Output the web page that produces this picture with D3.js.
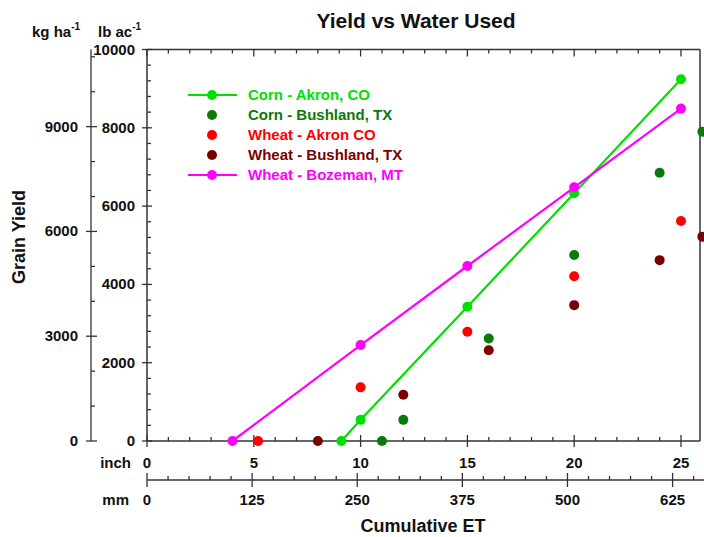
<!DOCTYPE html>
<html>
<head>
<meta charset="utf-8">
<script src="https://cdn.jsdelivr.net/npm/d3@7"></script>
<style>
  body { margin: 0; background: #fff; }
  text { font-family: "Liberation Sans", Arial, sans-serif; font-weight: bold; fill: #111; }
</style>
</head>
<body>
<svg width="704" height="537"></svg>
<script>
// cumulative ET in inches, grain yield in lb/ac
var cornAkronX = [9.1, 10, 15, 20, 25];
var cornAkronY = [0, 540, 3430, 6330, 9240];
var cornBushlandX = [11, 12, 16, 20, 24, 26];
var cornBushlandY = [0, 540, 2620, 4750, 6850, 7900];
var wheatAkronX = [5.2, 10, 15, 20, 25];
var wheatAkronY = [0, 1370, 2790, 4210, 5620];
var wheatBushlandX = [8, 12, 16, 20, 24, 26];
var wheatBushlandY = [0, 1180, 2320, 3470, 4620, 5220];
var wheatBozemanX = [4, 10, 15, 20, 25];
var wheatBozemanY = [0, 2450, 4470, 6480, 8490];

var seriesNames = ['Corn - Akron, CO', 'Corn - Bushland, TX', 'Wheat - Akron CO',
                   'Wheat - Bushland, TX', 'Wheat - Bozeman, MT'];

var inchTicks = [0, 5, 10, 15, 20, 25];
var mmTicks = [0, 125, 250, 375, 500, 625];
var lbTicks = [0, 2000, 4000, 6000, 8000, 10000];
var kgTicks = [0, 3000, 6000, 9000];

var colors = ['#00e000', '#0a7a0a', '#ff0000', '#7a0000', '#ff00ff'];

var svg = d3.select('svg');

var x = d3.scaleLinear().domain([0, 25]).range([147, 681]);
var xmm = d3.scaleLinear().domain([0, 25 * 25.4]).range([147, 681]);
var y = d3.scaleLinear().domain([0, 10000]).range([441, 49.5]);
var ykg = d3.scaleLinear().domain([0, 10000 * 1.12085]).range([441, 49.5]);

var right = 700;
var axisCol = '#333';

function line(x1, y1, x2, y2, w) {
  svg.append('line')
     .attr('x1', x1).attr('y1', y1).attr('x2', x2).attr('y2', y2)
     .attr('stroke', axisCol).attr('stroke-width', w || 1.3);
}

// frame
line(147, y(10000), right, y(10000), 1.5);
line(right, y(10000), right, y(0), 1.5);
line(147, y(0), right, y(0), 1.5);
line(147, y(0), 147, y(10000), 1.5);

// inch ticks (bottom + top)
d3.range(0, 26).forEach(function(v){
  var major = v % 5 == 0;
  line(x(v), y(0) - (major ? 6 : 4), x(v), y(0) + (major ? 6 : 0));
  line(x(v), y(10000), x(v), y(10000) + (major ? 7 : 4));
});
svg.selectAll('.inchLab').data(inchTicks).enter().append('text')
   .attr('x', function(d){ return x(d); }).attr('y', 468)
   .attr('text-anchor', 'middle').attr('font-size', 15)
   .text(function(d){ return d; });
svg.append('text').attr('x', 131).attr('y', 468).attr('text-anchor', 'end')
   .attr('font-size', 15).text('inch');

// mm axis
line(147, 480, 704, 480, 1.5);
d3.range(0, 676, 25).forEach(function(v){
  var major = v % 125 == 0;
  line(xmm(v), 480 - (major ? 7 : 4), xmm(v), 480 + (major ? 7 : 0));
});
svg.selectAll('.mmLab').data(mmTicks).enter().append('text')
   .attr('x', function(d){ return xmm(d); }).attr('y', 505)
   .attr('text-anchor', 'middle').attr('font-size', 15)
   .text(function(d){ return d; });
svg.append('text').attr('x', 129).attr('y', 505).attr('text-anchor', 'end')
   .attr('font-size', 15).text('mm');

svg.append('text').attr('x', 423).attr('y', 532).attr('text-anchor', 'middle')
   .attr('font-size', 18).text('Cumulative ET');

// lb/ac axis
d3.range(0, 10001, 400).forEach(function(v){
  var major = v % 2000 == 0;
  line(147 - (major ? 5 : 0), y(v), 147 + (major ? 5 : 4), y(v));
});
svg.selectAll('.lbLab').data(lbTicks).enter().append('text')
   .attr('x', 135).attr('y', function(d){ return y(d) + 5; })
   .attr('text-anchor', 'end').attr('font-size', 15)
   .text(function(d){ return d; });

// kg/ha axis
line(91, y(0), 91, ykg(11208), 1.3);
d3.range(0, 11001, 1000).forEach(function(v){
  var major = v % 3000 == 0;
  line(91 - (major ? 5 : 0), ykg(v), 91 + (major ? 6 : 4), ykg(v));
});
svg.selectAll('.kgLab').data(kgTicks).enter().append('text')
   .attr('x', 78).attr('y', function(d){ return ykg(d) + 5; })
   .attr('text-anchor', 'end').attr('font-size', 15)
   .text(function(d){ return d; });

// unit labels
var kgT = svg.append('text').attr('x', 32).attr('y', 37).attr('font-size', 15);
kgT.append('tspan').text('kg ha');
kgT.append('tspan').attr('dy', -7).attr('font-size', 10).text('-1');
var lbT = svg.append('text').attr('x', 98).attr('y', 37).attr('font-size', 15);
lbT.append('tspan').text('lb ac');
lbT.append('tspan').attr('dy', -7).attr('font-size', 10).text('-1');

svg.append('text').attr('transform', 'translate(25,237) rotate(-90)')
   .attr('text-anchor', 'middle').attr('font-size', 18).text('Grain Yield');

svg.append('text').attr('x', 416).attr('y', 28).attr('text-anchor', 'middle')
   .attr('font-size', 21).text('Yield vs Water Used');

// data
var series = [
  {xs: cornAkronX, ys: cornAkronY, line: true},
  {xs: cornBushlandX, ys: cornBushlandY, line: false},
  {xs: wheatAkronX, ys: wheatAkronY, line: false},
  {xs: wheatBushlandX, ys: wheatBushlandY, line: false},
  {xs: wheatBozemanX, ys: wheatBozemanY, line: true}
];

var lineGen = d3.line()
                .x(function(d){ return x(d[0]); })
                .y(function(d){ return y(d[1]); });

var drawOrder = [3, 2, 1, 0, 4];
drawOrder.forEach(function(i){
  var s = series[i];
  var pts = s.xs.map(function(v, j){ return [v, s.ys[j]]; });
  if (s.line) {
    svg.append('path').datum(pts)
       .attr('d', lineGen).attr('fill', 'none')
       .attr('stroke', colors[i]).attr('stroke-width', 2.2);
  }
  svg.append('g').selectAll('circle').data(pts).enter().append('circle')
     .attr('cx', function(d){ return x(d[0]); })
     .attr('cy', function(d){ return y(d[1]); })
     .attr('r', 5).attr('fill', colors[i]);
});

// legend
var leg = svg.append('g').selectAll('g').data(seriesNames).enter().append('g')
             .attr('transform', function(d, i){ return 'translate(0,' + (95 + i * 20) + ')'; });
leg.filter(function(d, i){ return series[i].line; })
   .append('line').attr('x1', 188).attr('x2', 237)
   .attr('stroke', function(d){ return colors[seriesNames.indexOf(d)]; })
   .attr('stroke-width', 2.2);
leg.append('circle').attr('cx', 212).attr('r', 5)
   .attr('fill', function(d, i){ return colors[i]; });
leg.append('text').attr('x', 248).attr('y', 5).attr('font-size', 15)
   .style('fill', function(d, i){ return colors[i]; })
   .text(function(d){ return d; });
</script>
</body>
</html>
